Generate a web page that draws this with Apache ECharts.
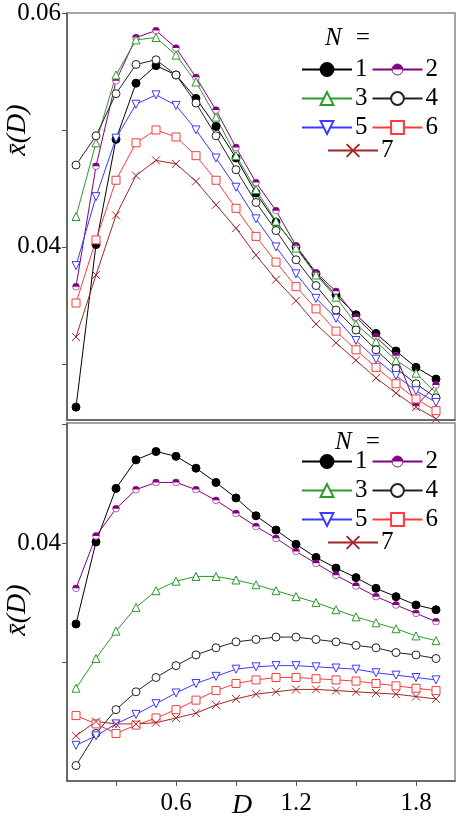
<!DOCTYPE html>
<html>
<head>
<meta charset="utf-8">
<script src="https://cdn.jsdelivr.net/npm/echarts@6/dist/echarts.min.js"></script>
<style>body{margin:0;background:#fff}#c{width:463px;height:831px}</style>
</head>
<body>
<div id="c"></div>
<script>
// D values (x axis)
var D = [0.1,0.2,0.3,0.4,0.5,0.6,0.7,0.8,0.9,1.0,1.1,1.2,1.3,1.4,1.5,1.6,1.7,1.8,1.9];

// top panel
var top1 = [0.0263,0.0402,0.0492,0.0540,0.0555,0.0547,0.0527,0.0503,0.0476,0.0446,0.0421,0.0400,0.0377,0.0359,0.0342,0.0326,0.0311,0.0297,0.0287];
var top2 = [0.0366,0.0469,0.0542,0.0579,0.0585,0.0570,0.0545,0.0517,0.0485,0.0455,0.0431,0.0401,0.0378,0.0362,0.0340,0.0323,0.0307,0.0264,0.0282];
var top3 = [0.0426,0.0489,0.0547,0.0577,0.0579,0.0564,0.0541,0.0511,0.0478,0.0449,0.0422,0.0399,0.0376,0.0357,0.0334,0.0319,0.0303,0.0292,0.0275];
var top4 = [0.0470,0.0495,0.0531,0.0556,0.0560,0.0547,0.0523,0.0495,0.0466,0.0438,0.0414,0.0389,0.0367,0.0346,0.0329,0.0312,0.0296,0.0283,0.0271];
var top5 = [0.0384,0.0443,0.0493,0.0522,0.0530,0.0521,0.0500,0.0476,0.0451,0.0424,0.0400,0.0377,0.0356,0.0339,0.0320,0.0304,0.0290,0.0277,0.0267];
var top6 = [0.0352,0.0406,0.0457,0.0489,0.0500,0.0494,0.0478,0.0457,0.0433,0.0409,0.0387,0.0366,0.0347,0.0328,0.0312,0.0297,0.0283,0.0270,0.0260];
var top7 = [0.0323,0.0376,0.0427,0.0461,0.0474,0.0471,0.0456,0.0436,0.0416,0.0393,0.0372,0.0354,0.0334,0.0318,0.0303,0.0288,0.0275,0.0263,0.0253];

// bottom panel
var bot1 = [0.0332,0.0401,0.0446,0.0470,0.0477,0.0473,0.0463,0.0451,0.0438,0.0423,0.0411,0.0399,0.0388,0.0379,0.0371,0.0362,0.0355,0.0348,0.0344];
var bot2 = [0.0362,0.0406,0.0429,0.0445,0.0451,0.0451,0.0445,0.0436,0.0425,0.0414,0.0404,0.0393,0.0383,0.0373,0.0364,0.0355,0.0348,0.0341,0.0334];
var bot3 = [0.0278,0.0303,0.0326,0.0346,0.0360,0.0368,0.0372,0.0372,0.0369,0.0365,0.0360,0.0355,0.0350,0.0344,0.0338,0.0333,0.0328,0.0322,0.0318];
var bot4 = [0.0213,0.0240,0.0260,0.0275,0.0287,0.0297,0.0306,0.0312,0.0317,0.0319,0.0321,0.0321,0.0319,0.0317,0.0314,0.0312,0.0308,0.0306,0.0303];
var bot5 = [0.0230,0.0238,0.0248,0.0256,0.0265,0.0274,0.0282,0.0288,0.0294,0.0296,0.0297,0.0297,0.0296,0.0295,0.0294,0.0291,0.0289,0.0287,0.0285];
var bot6 = [0.0255,0.0248,0.0240,0.0247,0.0253,0.0260,0.0268,0.0276,0.0282,0.0285,0.0287,0.0287,0.0286,0.0285,0.0284,0.0282,0.0280,0.0278,0.0276];
var bot7 = [0.0238,0.0250,0.0248,0.0248,0.0249,0.0253,0.0257,0.0264,0.0269,0.0273,0.0275,0.0277,0.0277,0.0276,0.0275,0.0274,0.0273,0.0271,0.0269];

var names = ['1','2','3','4','5','6','7'];
var xTicks = [0.3,0.6,0.9,1.2,1.5,1.8];
var xLabels = [0.6,1.2,1.8];

var halfSvg = "<svg xmlns='http://www.w3.org/2000/svg' width='20' height='20'><circle cx='10' cy='10' r='8.5' fill='white' stroke='%23800080' stroke-width='1.5'/><path d='M1.5 10 A8.5 8.5 0 0 1 18.5 10 Z' fill='%23800080'/></svg>";
var styles = [
  {color:'#000000', symbol:'circle', fill:'#000000'},
  {color:'#800080', symbol:'image://data:image/svg+xml;utf8,' + halfSvg, fill:'#800080'},
  {color:'#2a9a2a', symbol:'triangle', fill:'#ffffff'},
  {color:'#222222', symbol:'circle', fill:'#ffffff'},
  {color:'#3a3aff', symbol:'triangle', fill:'#ffffff', rotate:180},
  {color:'#ff3a3a', symbol:'rect', fill:'#ffffff'},
  {color:'#a02828', symbol:'path://M0 0 L10 10 M10 0 L0 10', fill:'none'}
];

function makeSeries(arr, idx) {
  return arr.map(function (vals, i) {
    var s = styles[i];
    return {
      name: names[i], type: 'line', xAxisIndex: idx, yAxisIndex: idx,
      data: D.map(function (d, j) { return [d, vals[j]]; }),
      symbol: s.symbol, symbolSize: 8, symbolRotate: s.rotate || 0,
      lineStyle: {color: s.color, width: 1, type: 'solid'},
      itemStyle: {color: s.fill, borderColor: s.color, borderWidth: 1, borderType: 'solid'},
      animation: false
    };
  });
}

var font = "'Liberation Serif', 'DejaVu Serif', serif";
function xAxis(idx, labels) {
  return {
    type: 'value', gridIndex: idx, min: 0.055, max: 1.995,
    axisLine: {onZero: false, lineStyle: {color: '#555', width: 1.5}},
    splitLine: {show: false},
    axisTick: {show: labels, customValues: xTicks, length: 5, lineStyle: {color: '#555'}},
    axisLabel: {show: labels, customValues: xLabels, fontFamily: font, fontSize: 25, color: '#000', margin: 10}
  };
}
function yAxis(idx, min, max, ticks, labels) {
  return {
    type: 'value', gridIndex: idx, min: min, max: max,
    axisLine: {show: true, onZero: false, lineStyle: {color: '#555', width: 1.5}},
    splitLine: {show: false},
    axisTick: {customValues: ticks, length: 5, lineStyle: {color: '#555'}},
    axisLabel: {customValues: labels, fontFamily: font, fontSize: 25, color: '#000', margin: 6,
      formatter: function (v) { return v.toFixed(2); }}
  };
}
function legends(top) {
  var base = {
    orient: 'horizontal', itemWidth: 50, itemHeight: 16, itemGap: 4,
    textStyle: {fontFamily: font, fontSize: 25, color: '#000', padding: [0, 0, 0, -2]},
    inactiveColor: '#ccc', selectedMode: false
  };
  return [
    Object.assign({}, base, {left: 296, top: top, width: 165, data: names.slice(0, 6)}),
    Object.assign({}, base, {left: 322, top: top + 81, data: ['7']})
  ];
}

var chart = echarts.init(document.getElementById('c'));
var option = {
  backgroundColor: '#fff',
  grid: [
    {left: 67, top: 13, width: 388, height: 407, show: true, borderColor: '#888', borderWidth: 1.5},
    {left: 67, top: 423, width: 388, height: 358, show: true, borderColor: '#888', borderWidth: 1.5}
  ],
  xAxis: [xAxis(0, false), xAxis(1, true)],
  yAxis: [
    yAxis(0, 0.0252, 0.06, [0.03, 0.04, 0.05, 0.06], [0.04, 0.06]),
    yAxis(1, 0.02, 0.0501, [0.03, 0.04, 0.05], [0.04])
  ],
  legend: legends(52).concat(legends(444)),
  graphic: [
    {type: 'text', left: 325, top: 26, style: {text: 'N  =', fontFamily: font, fontStyle: 'italic', fontSize: 25, fill: '#000'}},
    {type: 'text', left: 335, top: 430, style: {text: 'N  =', fontFamily: font, fontStyle: 'italic', fontSize: 25, fill: '#000'}},
    {type: 'text', x: 18, y: 130, rotation: Math.PI / 2, style: {text: 'x\u0304(D)', fontFamily: font, fontStyle: 'italic', fontSize: 28, fill: '#000', align: 'center', verticalAlign: 'middle'}},
    {type: 'text', x: 18, y: 610, rotation: Math.PI / 2, style: {text: 'x\u0304(D)', fontFamily: font, fontStyle: 'italic', fontSize: 28, fill: '#000', align: 'center', verticalAlign: 'middle'}},
    {type: 'text', left: 232, top: 792, style: {text: 'D', fontFamily: font, fontStyle: 'italic', fontSize: 28, fill: '#000'}}
  ],
  series: makeSeries([top1, top2, top3, top4, top5, top6, top7], 0)
    .concat(makeSeries([bot1, bot2, bot3, bot4, bot5, bot6, bot7], 1))
};
chart.setOption(option);
</script>
</body>
</html>
